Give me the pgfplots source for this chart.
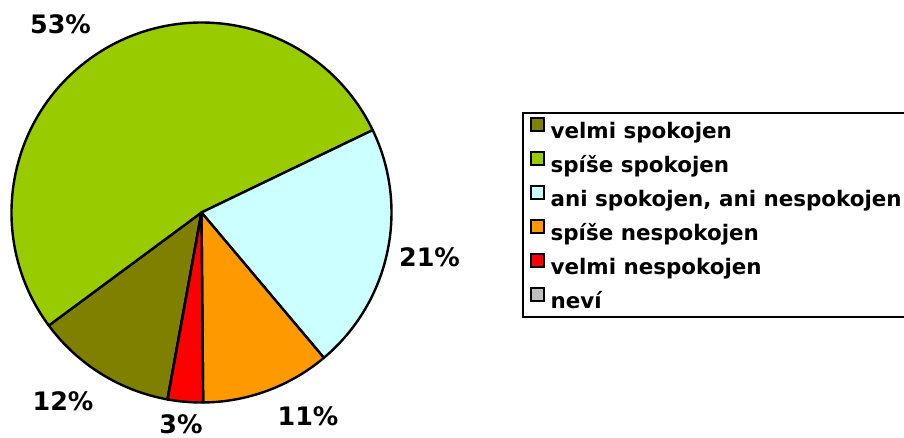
\documentclass[border=0pt]{standalone}
\usepackage{fontspec}
\setmainfont{DejaVu Sans}
\usepackage{pgfplots}
\pgfplotsset{compat=1.18}
\definecolor{cOlive}{HTML}{808000}
\definecolor{cGreen}{HTML}{99CC00}
\definecolor{cCyan}{HTML}{CCFFFF}
\definecolor{cOrange}{HTML}{FF9900}
\definecolor{cRed}{HTML}{FF0000}
\definecolor{cGray}{HTML}{C0C0C0}
\begin{document}
\begin{tikzpicture}
\def\cx{201.5}\def\cy{225.5}\def\R{190}
\begin{axis}[
  at={(0,0)}, anchor=south west,
  x=1bp, y=1bp, xmin=0, xmax=904, ymin=0, ymax=438,
  hide axis, clip=false,
  legend image code/.code={\draw[#1, draw=black, line width=1.8bp] (0bp,-1bp) rectangle (13bp,12bp);},
  legend cell align=left,
  legend style={at={(axis description cs:0.5774,0.7443)}, anchor=north west,
    draw=black, line width=1.8bp,
    font=\fontsize{21.5}{21.5}\selectfont\bfseries,
    inner xsep=7bp, inner ysep=0bp, row sep=0bp, column sep=4bp,
    nodes={text height=26bp, text depth=8bp, inner ysep=0bp, inner xsep=2bp}},
]
\pgfplotsextra{
  \xdef\angA{-100.3}
  \foreach \v/\c in {12/cOlive, 53/cGreen, 21/cCyan, 11/cOrange, 3/cRed, 0/cGray} {
    \pgfmathsetmacro\angB{\angA-3.6*\v}
    \fill[\c, draw=black, line width=2.4bp, line join=round]
      (axis cs:\cx,\cy) -- (axis cs:{\cx+\R*cos(\angA)},{\cy+\R*sin(\angA)})
      arc[start angle=\angA, end angle=\angB, radius=\R bp] -- cycle;
    \xdef\angA{\angB}
  }
}
\addlegendimage{fill=cOlive}
\addlegendimage{fill=cGreen}
\addlegendimage{fill=cCyan}
\addlegendimage{fill=cOrange}
\addlegendimage{fill=cRed}
\addlegendimage{fill=cGray}
\legend{velmi spokojen, spíše spokojen, {ani spokojen, ani nespokojen}, spíše nespokojen, velmi nespokojen, neví}
\begin{scope}[every node/.style={font=\fontsize{25.5}{25.5}\selectfont\bfseries, inner sep=0pt}]
\node at (axis cs:60.5,414) {53\%};
\node at (axis cs:429.5,180.5) {21\%};
\node at (axis cs:308,21.5) {11\%};
\node at (axis cs:181,13.5) {3\%};
\node at (axis cs:63,36.5) {12\%};
\end{scope}
\end{axis}
\pgfresetboundingbox
\useasboundingbox (0,0) rectangle (904bp,438bp);
\end{tikzpicture}
\end{document}
